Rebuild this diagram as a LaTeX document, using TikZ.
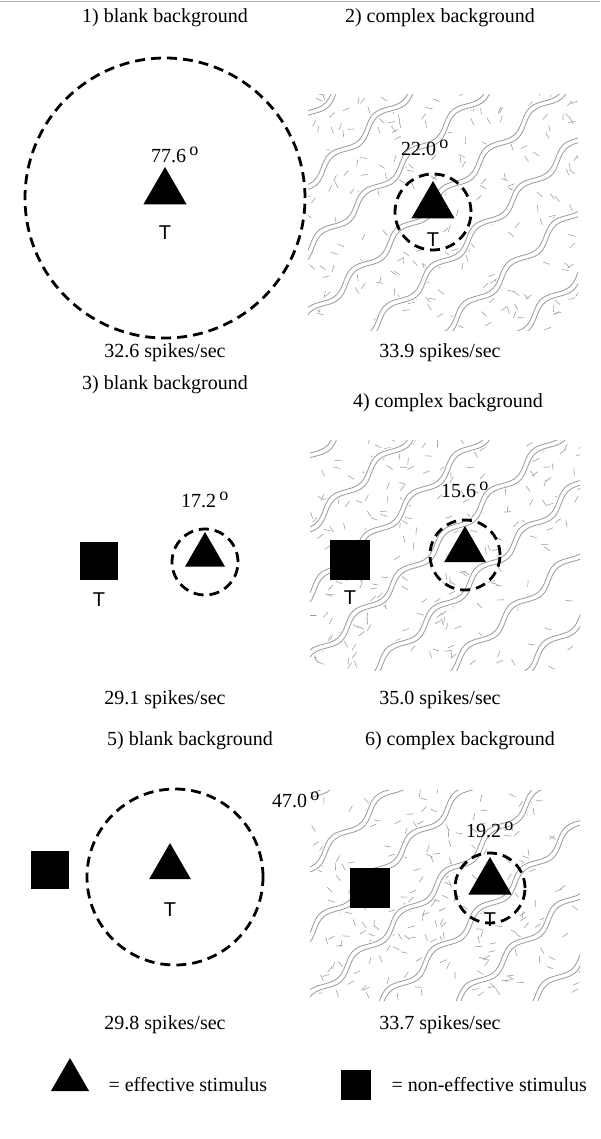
\documentclass[tikz,border=0pt]{standalone}
\usepackage{fontspec}
\setmainfont{Liberation Serif}
\newfontfamily\sansT{Liberation Sans}
\begin{document}
\begin{tikzpicture}[x=1pt,y=1pt,
  lab/.style={font=\fontsize{20}{24}\selectfont},
  tl/.style={font=\sansT\fontsize{20}{22}\selectfont},
  rf/.style={draw,dashed,line width=2.8pt,dash pattern=on 10pt off 6pt},
  tri/.style={fill=black,regular polygon,regular polygon sides=3,inner sep=0pt,minimum size=#1},
  sq/.style={fill=black,minimum size=#1,inner sep=0pt},
  wave/.style={draw=gray!80,line width=0.8pt},
  dsh/.style={draw=gray!75,line width=0.6pt}]
\usetikzlibrary{shapes.geometric}
\useasboundingbox (0,0) rectangle (600,-1139);
\draw[gray!60,line width=1pt] (0,-2) -- (600,-2);
\newcommand\dg{\,$^{\mbox{\fontsize{18}{18}\selectfont o}}$}
\newcommand\bgtex[4]{%
 \begin{scope}
 \clip (#1,-#2) rectangle (#3,-#4);
 \pgfmathsetseed{#1#2}
 \foreach \i in {1,...,230}{
   \pgfmathsetmacro\px{#1+rnd*(#3-#1)}
   \pgfmathsetmacro\py{-#2-rnd*(#4-#2)}
   \pgfmathsetmacro\pa{rnd*180}
   \draw[dsh] (\px,\py) -- ++(\pa:7);
 }
 \begin{scope}[shift={({(#1+#3)/2},{-(#2+#4)/2})},rotate=42]
 \foreach \c in {-240,-190,...,260}{
   \fill[white] plot[domain=-260:260,samples=100] (\x,{\c-2+5*sin(6*\x)}) -- plot[domain=260:-260,samples=100] (\x,{\c+7+5*sin(6*\x)}) -- cycle;
   \draw[wave] plot[domain=-260:260,samples=100] (\x,{\c+5*sin(6*\x)});
   \draw[wave] plot[domain=-260:260,samples=100] (\x,{\c+5+5*sin(6*\x)});
 }
 \end{scope}
 \end{scope}}
% titles
\node[lab] (t1) at (165,-18) {1) blank background};
\node[lab] (t2) at (440,-18) {2) complex background};
% panel 1
\draw[rf] (165,-198) circle (140);
\node[tri=50pt] (a1) at (165,-192) {};
\node[tl] (T1) at (165,-233) {T};
\node[lab] (d1) at (175,-155) {77.6\dg};
% panel 2
\bgtex{308}{95}{578}{330}
\node[tri=50pt] (a2) at (433,-206) {};
\draw[rf] (433,-212) circle (38);
\node[tl] (T2) at (433,-240) {T};
\node[lab] (d2) at (425,-148) {22.0\dg};
\node[lab] (s1) at (165,-353) {32.6 spikes/sec};
\node[lab] (s2) at (440,-353) {33.9 spikes/sec};
% row 2
\node[lab] (t3) at (165,-385) {3) blank background};
\node[lab] (t4) at (448,-403) {4) complex background};
\node[sq=38pt] (q3) at (99,-561) {};
\node[tl] (T3) at (99,-600) {T};
\draw[rf] (205,-562) circle (33);
\node[tri=46pt] (a3) at (205,-555) {};
\node[lab] (d3) at (205,-500) {17.2\dg};
\bgtex{310}{440}{580}{670}
\node[sq=40pt] (q4) at (350,-560) {};
\node[tl] (T4) at (350,-598) {T};
\node[tri=48pt] (a4) at (465,-550) {};
\draw[rf] (465,-555) circle (35);
\node[lab] (d4) at (465,-490) {15.6\dg};
\node[lab] (s3) at (165,-700) {29.1 spikes/sec};
\node[lab] (s4) at (440,-700) {35.0 spikes/sec};
% row 3
\node[lab] (t5) at (190,-741) {5) blank background};
\node[lab] (t6) at (460,-741) {6) complex background};
\node[sq=38pt] (q5) at (50,-870) {};
\draw[rf] (175,-877) circle (88);
\node[tri=48pt] (a5) at (170,-867) {};
\node[tl] (T5) at (170,-910) {T};
\bgtex{310}{790}{580}{1000}
\node[lab] (d5) at (296,-800) {47.0\dg};
\node[sq=40pt] (q6) at (370,-888) {};
\node[tri=50pt] (a6) at (490,-882) {};
\draw[rf] (490,-888) circle (35);
\node[tl] (T6) at (490,-920) {T};
\node[lab] (d6) at (490,-830) {19.2\dg};
\node[lab] (s5) at (165,-1025) {29.8 spikes/sec};
\node[lab] (s6) at (440,-1025) {33.7 spikes/sec};
% legend
\node[tri=44pt] (la) at (70,-1080) {};
\node[lab,anchor=west] (le) at (105,-1085) {= effective stimulus};
\node[sq=30pt] (lq) at (356,-1085) {};
\node[lab,anchor=west] (ln) at (388,-1085) {= non-effective stimulus};
\end{tikzpicture}
\end{document}
